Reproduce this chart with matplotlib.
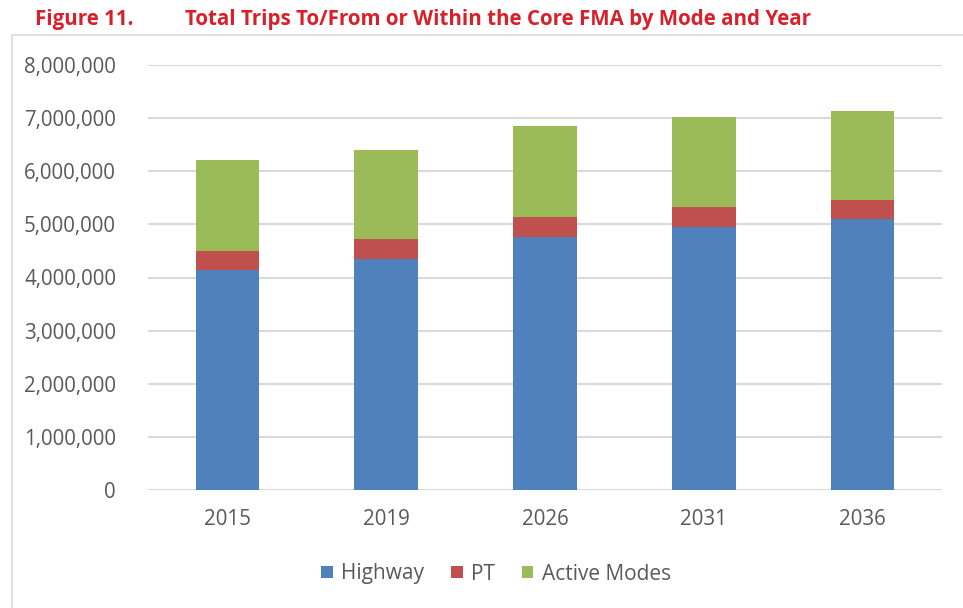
import matplotlib
matplotlib.use("Agg")
import matplotlib.pyplot as plt
from matplotlib.ticker import FuncFormatter
from matplotlib.patches import Rectangle

years = ["2015", "2019", "2026", "2031", "2036"]
highway = [4150000, 4350000, 4760000, 4950000, 5100000]
pt = [350000, 370000, 370000, 370000, 360000]
active = [1710000, 1680000, 1730000, 1710000, 1670000]
series_names = ["Highway", "PT", "Active Modes"]
colors = ["#4f81bd", "#c0504d", "#9bbb59"]
yticks = [0, 1000000, 2000000, 3000000, 4000000, 5000000, 6000000, 7000000, 8000000]

plt.rcParams['font.family'] = ['Open Sans', 'DejaVu Sans']

W, H = 963, 608
fig = plt.figure(figsize=(W / 100, H / 100), dpi=100)
fig.patch.set_facecolor("white")

# chart frame
fig.add_artist(Rectangle((12 / W, -0.01), 1.0, 1 - 35 / H + 0.01, transform=fig.transFigure,
                         fill=False, edgecolor="#d9d9d9", linewidth=1.2))

ax = fig.add_axes([148 / W, 1 - 490 / H, (942 - 148) / W, (490 - 65) / H])
x = list(range(len(years)))
bw = 0.4
b1 = ax.bar(x, highway, bw, color=colors[0], label=series_names[0], zorder=3)
bottom2 = highway
b2 = ax.bar(x, pt, bw, bottom=bottom2, color=colors[1], label=series_names[1], zorder=3)
bottom3 = [h + p for h, p in zip(highway, pt)]
b3 = ax.bar(x, active, bw, bottom=bottom3, color=colors[2], label=series_names[2], zorder=3)

ax.set_xlim(-0.5, len(years) - 0.5)
ax.set_ylim(0, 8000000)
ax.set_yticks(yticks)
ax.yaxis.set_major_formatter(FuncFormatter(lambda v, p: f"{int(v):,}"))
ax.set_xticks(x)
ax.set_xticklabels(years)
ax.grid(axis="y", color="#d9d9d9", linewidth=1.5, zorder=0)
for s in ax.spines.values():
    s.set_visible(False)
ax.tick_params(axis="both", length=0, labelsize=14.8, colors="#595959")
ax.tick_params(axis="y", pad=23)
ax.tick_params(axis="x", pad=14)

leg = fig.legend(handles=[b1, b2, b3], labels=series_names, loc="center",
                 bbox_to_anchor=(496 / W, 1 - 574 / H), ncol=3, frameon=False,
                 fontsize=15, handlelength=0.55, handleheight=0.55, columnspacing=1.3,
                 handletextpad=0.4)
for t in leg.get_texts():
    t.set_color("#595959")

title_color = "#d8202a"
fig.text(35 / W, 1 - 20 / H, "Figure 11.", color=title_color, fontsize=14.8,
         fontweight="bold", va="center", ha="left", family=["Open Sans", "DejaVu Sans"])
fig.text(185 / W, 1 - 20 / H, "Total Trips To/From or Within the Core FMA by Mode and Year",
         color=title_color, fontsize=14.8, fontweight="bold", va="center", ha="left",
         family=["Open Sans", "DejaVu Sans"])

fig.savefig("out.png", dpi=100, facecolor="white")
